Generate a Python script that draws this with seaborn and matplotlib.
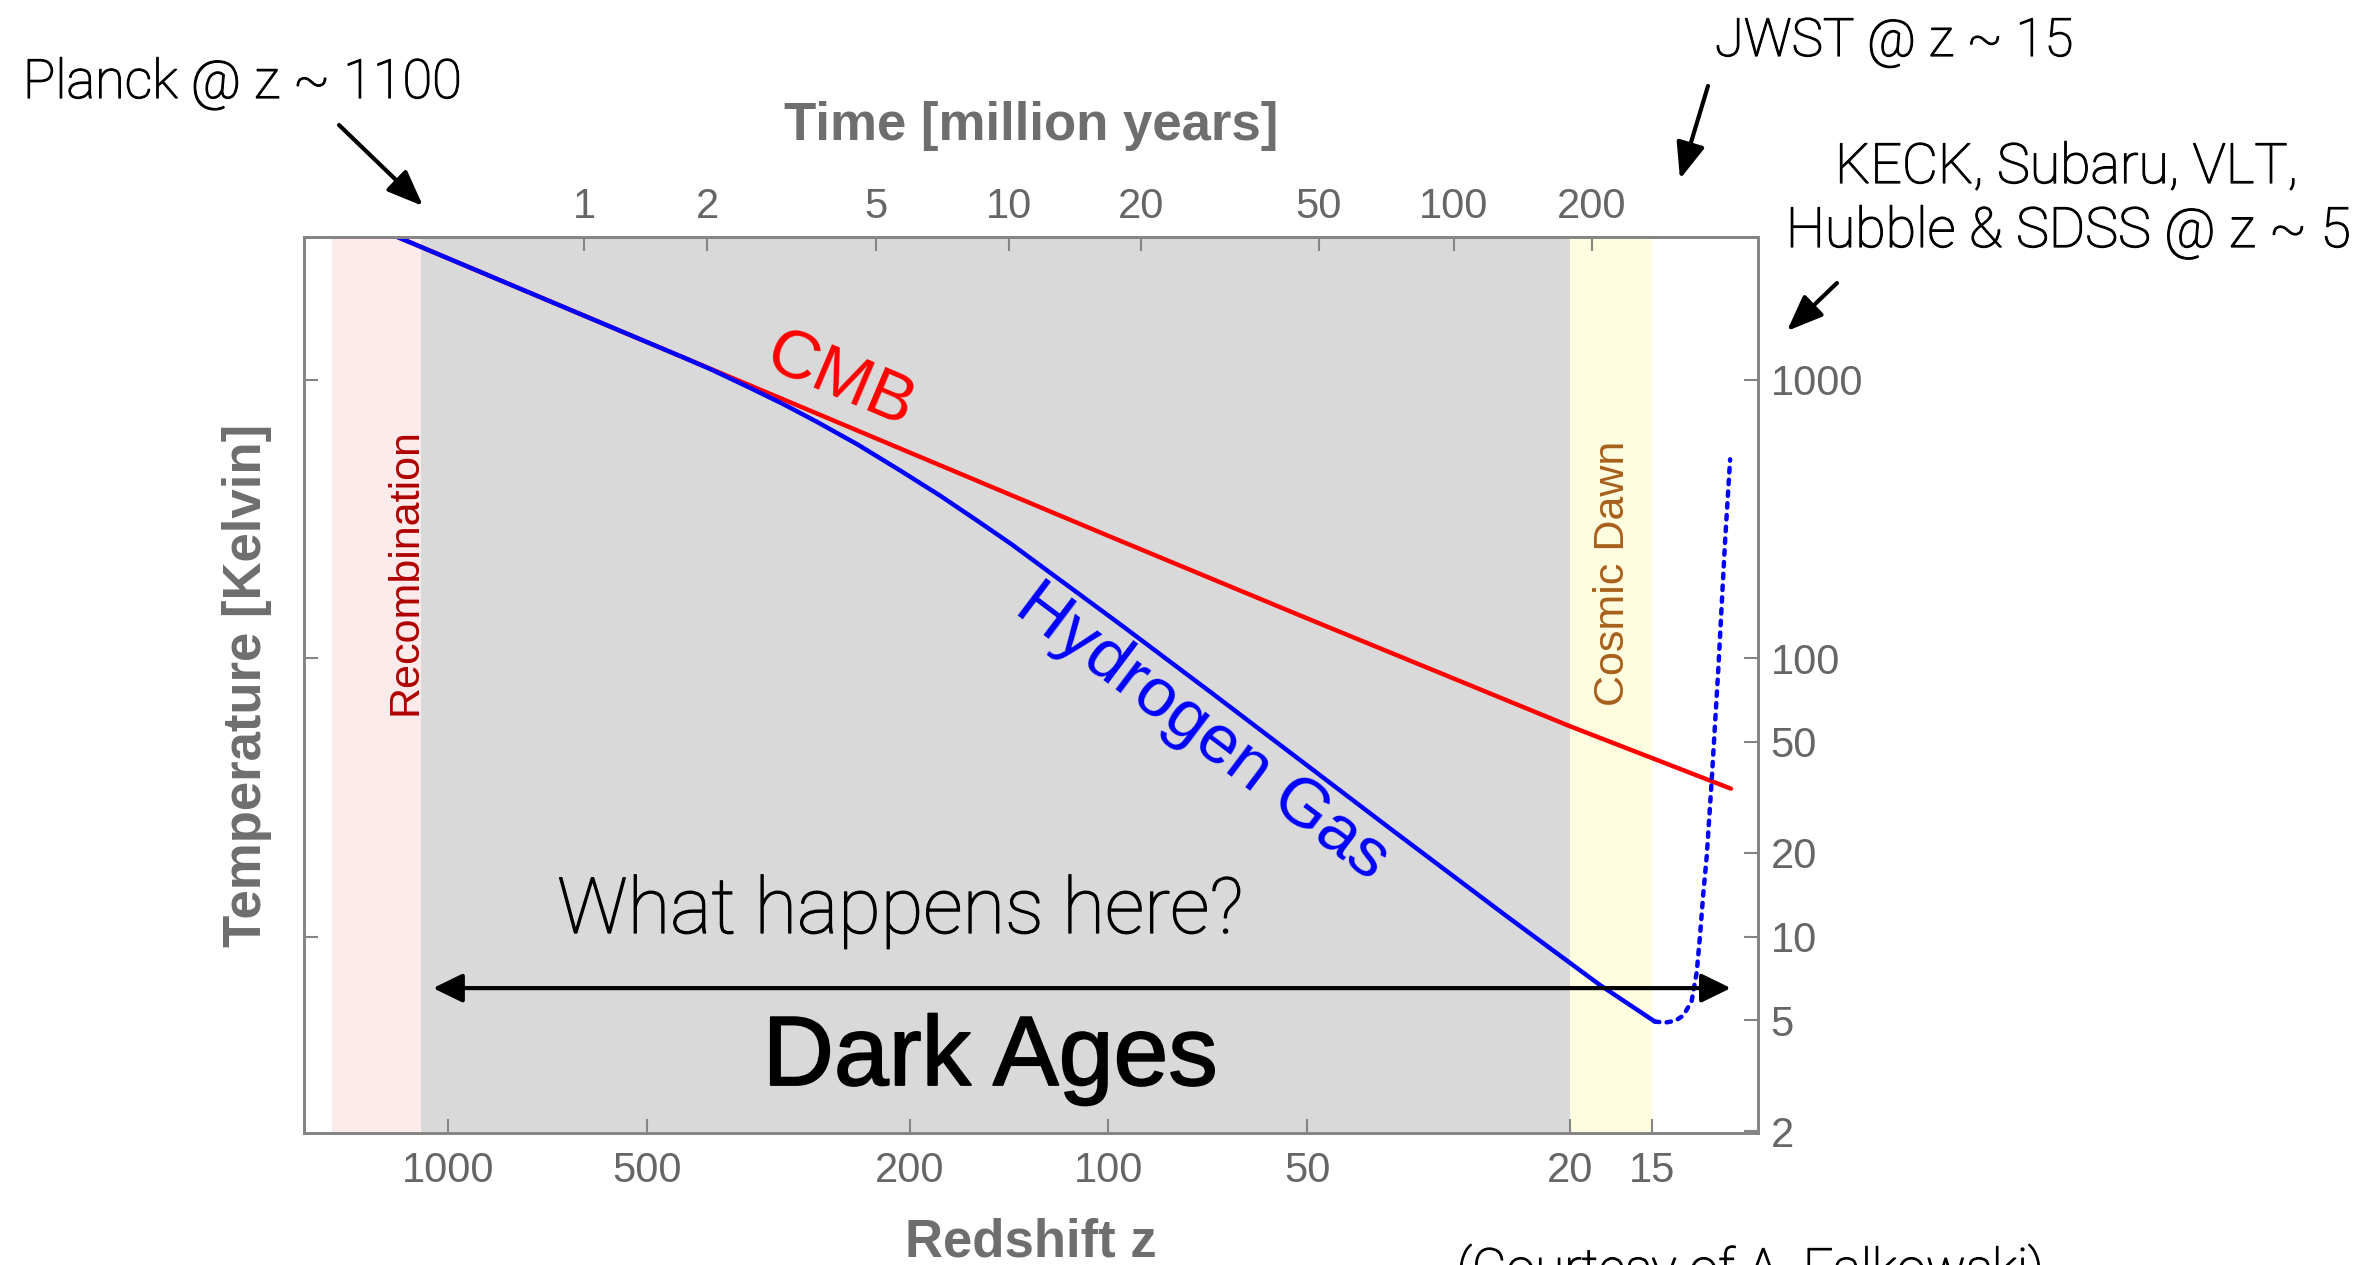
import matplotlib
matplotlib.use("Agg")
import matplotlib.pyplot as plt
import matplotlib.patheffects as pe
from matplotlib.ticker import NullLocator
import pandas as pd
import seaborn as sns

# ---- data -----------------------------------------------------------------
# CMB temperature vs redshift
cmb_z = [1209, 500, 200, 100, 50, 20, 11.4]
cmb_T = [3297, 1365, 548, 275, 139, 57, 34]

# hydrogen gas temperature through the Dark Ages (solid)
gas_z = [1209, 700, 443, 400, 350, 310, 277, 240, 207, 180, 156.5, 140, 124,
         110, 95, 70, 50, 37.3, 25, 18, 14.86]
gas_T = [3297, 1910, 1210, 1090, 938, 815, 708, 586, 473, 384, 307, 256, 207,
         168, 130, 75.5, 41.2, 24.3, 11.9, 6.7, 4.95]

# gas heating after the first stars (dotted)
heat_z = [14.86, 14.34, 13.85, 13.45, 13.07, 12.84, 12.69, 12.55, 12.40, 12.19, 11.91, 11.64, 11.43]
heat_T = [4.95, 4.91, 4.98, 5.21, 5.87, 7.47, 10.2, 14.3, 19.5, 36.2, 91.5, 256, 518]

# epoch bands (redshift ranges)
recomb_band = [1500, 1100]
dark_band = [1100, 20]
dawn_band = [20, 15]

# axis ticks
z_ticks = [1000, 500, 200, 100, 50, 20, 15]
time_labels = ["1", "2", "5", "10", "20", "50", "100", "200"]
time_tick_z = [623, 405, 225, 141.5, 89.2, 48.0, 30.0, 18.5]
temp_ticks = [1000, 100, 50, 20, 10, 5, 2]
left_ticks = [1000, 100, 10]

# ---- style ----------------------------------------------------------------
sns.set_style("white")
plt.rcParams["font.family"] = ["Liberation Sans", "DejaVu Sans"]
NOTE = dict(family=["Roboto", "Liberation Sans", "DejaVu Sans"], weight="light",
            color="black",
            path_effects=[pe.withStroke(linewidth=0.9, foreground="black")])
FRAME = "#858585"
TICKTXT = "#666666"
LABEL = "#6e6e6e"

W, H = 2372, 1265
fig = plt.figure(figsize=(W / 100, H / 100), dpi=100)
ax = fig.add_axes([304 / W, 1 - 1133 / H, (1758 - 304) / W, (1133 - 237) / H])
ax.set_xscale("log")
ax.set_yscale("log")

ax.axvspan(*recomb_band, color="#fdebeb", lw=0, zorder=0)
ax.axvspan(*dark_band, color="#d9d9d9", lw=0, zorder=0)
ax.axvspan(*dawn_band, color="#fffde0", lw=0, zorder=0)

cmb_df = pd.DataFrame({"z": cmb_z, "T": cmb_T})
gas_df = pd.DataFrame({"z": gas_z, "T": gas_T})
heat_df = pd.DataFrame({"z": heat_z, "T": heat_T})

sns.lineplot(data=cmb_df, x="z", y="T", color="#ff0000", lw=3.2, ax=ax,
             estimator=None, sort=False, zorder=3)
sns.lineplot(data=gas_df, x="z", y="T", color="#0000ff", lw=3.2, ax=ax,
             estimator=None, sort=False, zorder=4)
sns.lineplot(data=heat_df, x="z", y="T", color="#0000ff", lw=3.2, ax=ax,
             estimator=None, sort=False, zorder=4, linestyle=":",
             dash_capstyle="round")

xlim = (1655, 10.37)
ylim = (1.97, 3258)
ax.set_xlim(*xlim)
ax.set_ylim(*ylim)

# bottom redshift axis + left decade ticks
ax.set_xticks(z_ticks, [str(v) for v in z_ticks])
ax.xaxis.set_minor_locator(NullLocator())
ax.set_yticks(left_ticks, [""] * len(left_ticks))
ax.yaxis.set_minor_locator(NullLocator())
ax.tick_params(axis="x", which="major", direction="in", length=10, width=1.5,
               color=FRAME, labelcolor=TICKTXT, labelsize=30, pad=13,
               top=False, bottom=True)
ax.tick_params(axis="y", which="major", direction="in", length=10, width=1.5,
               color=FRAME, left=True, right=False, labelleft=False)

# top time axis
ax_top = ax.twiny()
ax_top.set_xscale("log")
ax_top.set_xlim(*xlim)
ax_top.set_xticks(time_tick_z, time_labels)
ax_top.xaxis.set_minor_locator(NullLocator())
ax_top.tick_params(axis="x", which="major", direction="in", length=10, width=1.5,
                   color=FRAME, labelcolor=TICKTXT, labelsize=30, pad=7)

# right temperature axis
ax_r = ax.twinx()
ax_r.set_yscale("log")
ax_r.set_ylim(*ylim)
ax_r.set_yticks(temp_ticks, [str(v) for v in temp_ticks])
ax_r.yaxis.set_minor_locator(NullLocator())
ax_r.tick_params(axis="y", which="major", direction="in", length=10, width=1.5,
                 color=FRAME, labelcolor=TICKTXT, labelsize=30, pad=9)

for a in (ax, ax_top, ax_r):
    for s in a.spines.values():
        s.set_color(FRAME)
        s.set_linewidth(1.8)
        s.set_visible(True)

# axis titles
lab_kw = dict(fontsize=38, fontweight="bold", color=LABEL)
ax.set_xlabel("Redshift z", **lab_kw)
ax.xaxis.set_label_coords(0.5, -0.1225)
ax.xaxis.label.set_va("center")
ax_top.set_xlabel("Time [million years]", **lab_kw)
ax_top.xaxis.set_label_coords(0.5, 1.1244)
ax_top.xaxis.label.set_va("center")
ax.set_ylabel("Temperature [Kelvin]", **lab_kw)
ax.yaxis.set_label_coords(-0.0395, 0.5)
ax.yaxis.label.set_va("center")
ax.yaxis.label.set_ha("center")
ax_r.set_ylabel("")

# in-plot labels
ax.text(255, 990, "CMB", color="#ff0000", fontsize=50, rotation=-23,
        ha="center", va="center", rotation_mode="anchor", zorder=6)
ax.text(72, 54, "Hydrogen Gas", color="#0000ff", fontsize=50, rotation=-37,
        ha="center", va="center", rotation_mode="anchor", zorder=6)
ax.text(1163, 204, "Recombination", color="#b00000", fontsize=31, rotation=90,
        ha="center", va="center", zorder=6)
ax.text(17.2, 202, "Cosmic Dawn", color="#a8601c", fontsize=31, rotation=90,
        ha="center", va="center", zorder=6)
ax.text(207, 10.3, "What happens here?", fontsize=56,
        ha="center", va="baseline", zorder=6, **NOTE)
ax.text(151, 2.93, "Dark Ages", color="black", fontsize=71,
        ha="center", va="baseline", zorder=6,
        path_effects=[pe.withStroke(linewidth=1.3, foreground="black")])

ax.annotate("", xy=(11.4, 6.53), xytext=(1055, 6.53),
            arrowprops=dict(arrowstyle="<|-|>,head_length=0.45,head_width=0.22",
                            color="black", lw=3, mutation_scale=40,
                            shrinkA=0, shrinkB=0), zorder=7)

# observatory call-outs around the frame
def fpx(x, y):
    return (x, H - y)

arrow_kw = dict(arrowstyle="-|>,head_length=0.55,head_width=0.22",
                color="black", lw=3, mutation_scale=40, shrinkA=0, shrinkB=0)
for start, tip in [((339, 125), (423, 206)),
                   ((1708, 86), (1680, 179)),
                   ((1837, 283), (1787, 331))]:
    ax.annotate("", xy=fpx(*tip), xytext=fpx(*start), xycoords="figure pixels",
                textcoords="figure pixels", arrowprops=arrow_kw,
                annotation_clip=False)

fig.text(242 / W, 1 - 98 / H, "Planck @ z ~ 1100", fontsize=39,
         ha="center", va="baseline", **NOTE)
fig.text(1894 / W, 1 - 56 / H, "JWST @ z ~ 15", fontsize=38,
         ha="center", va="baseline", **NOTE)
fig.text(2066 / W, 1 - 183 / H, "KECK, Subaru, VLT,", fontsize=40,
         ha="center", va="baseline", **NOTE)
fig.text(2068 / W, 1 - 247 / H, "Hubble & SDSS @ z ~ 5", fontsize=40,
         ha="center", va="baseline", **NOTE)
fig.text(1750 / W, 1 - 1286 / H, "(Courtesy of A. Falkowski)", fontsize=38,
         ha="center", va="baseline", **NOTE)

fig.savefig("out.png", dpi=100, facecolor="white")
